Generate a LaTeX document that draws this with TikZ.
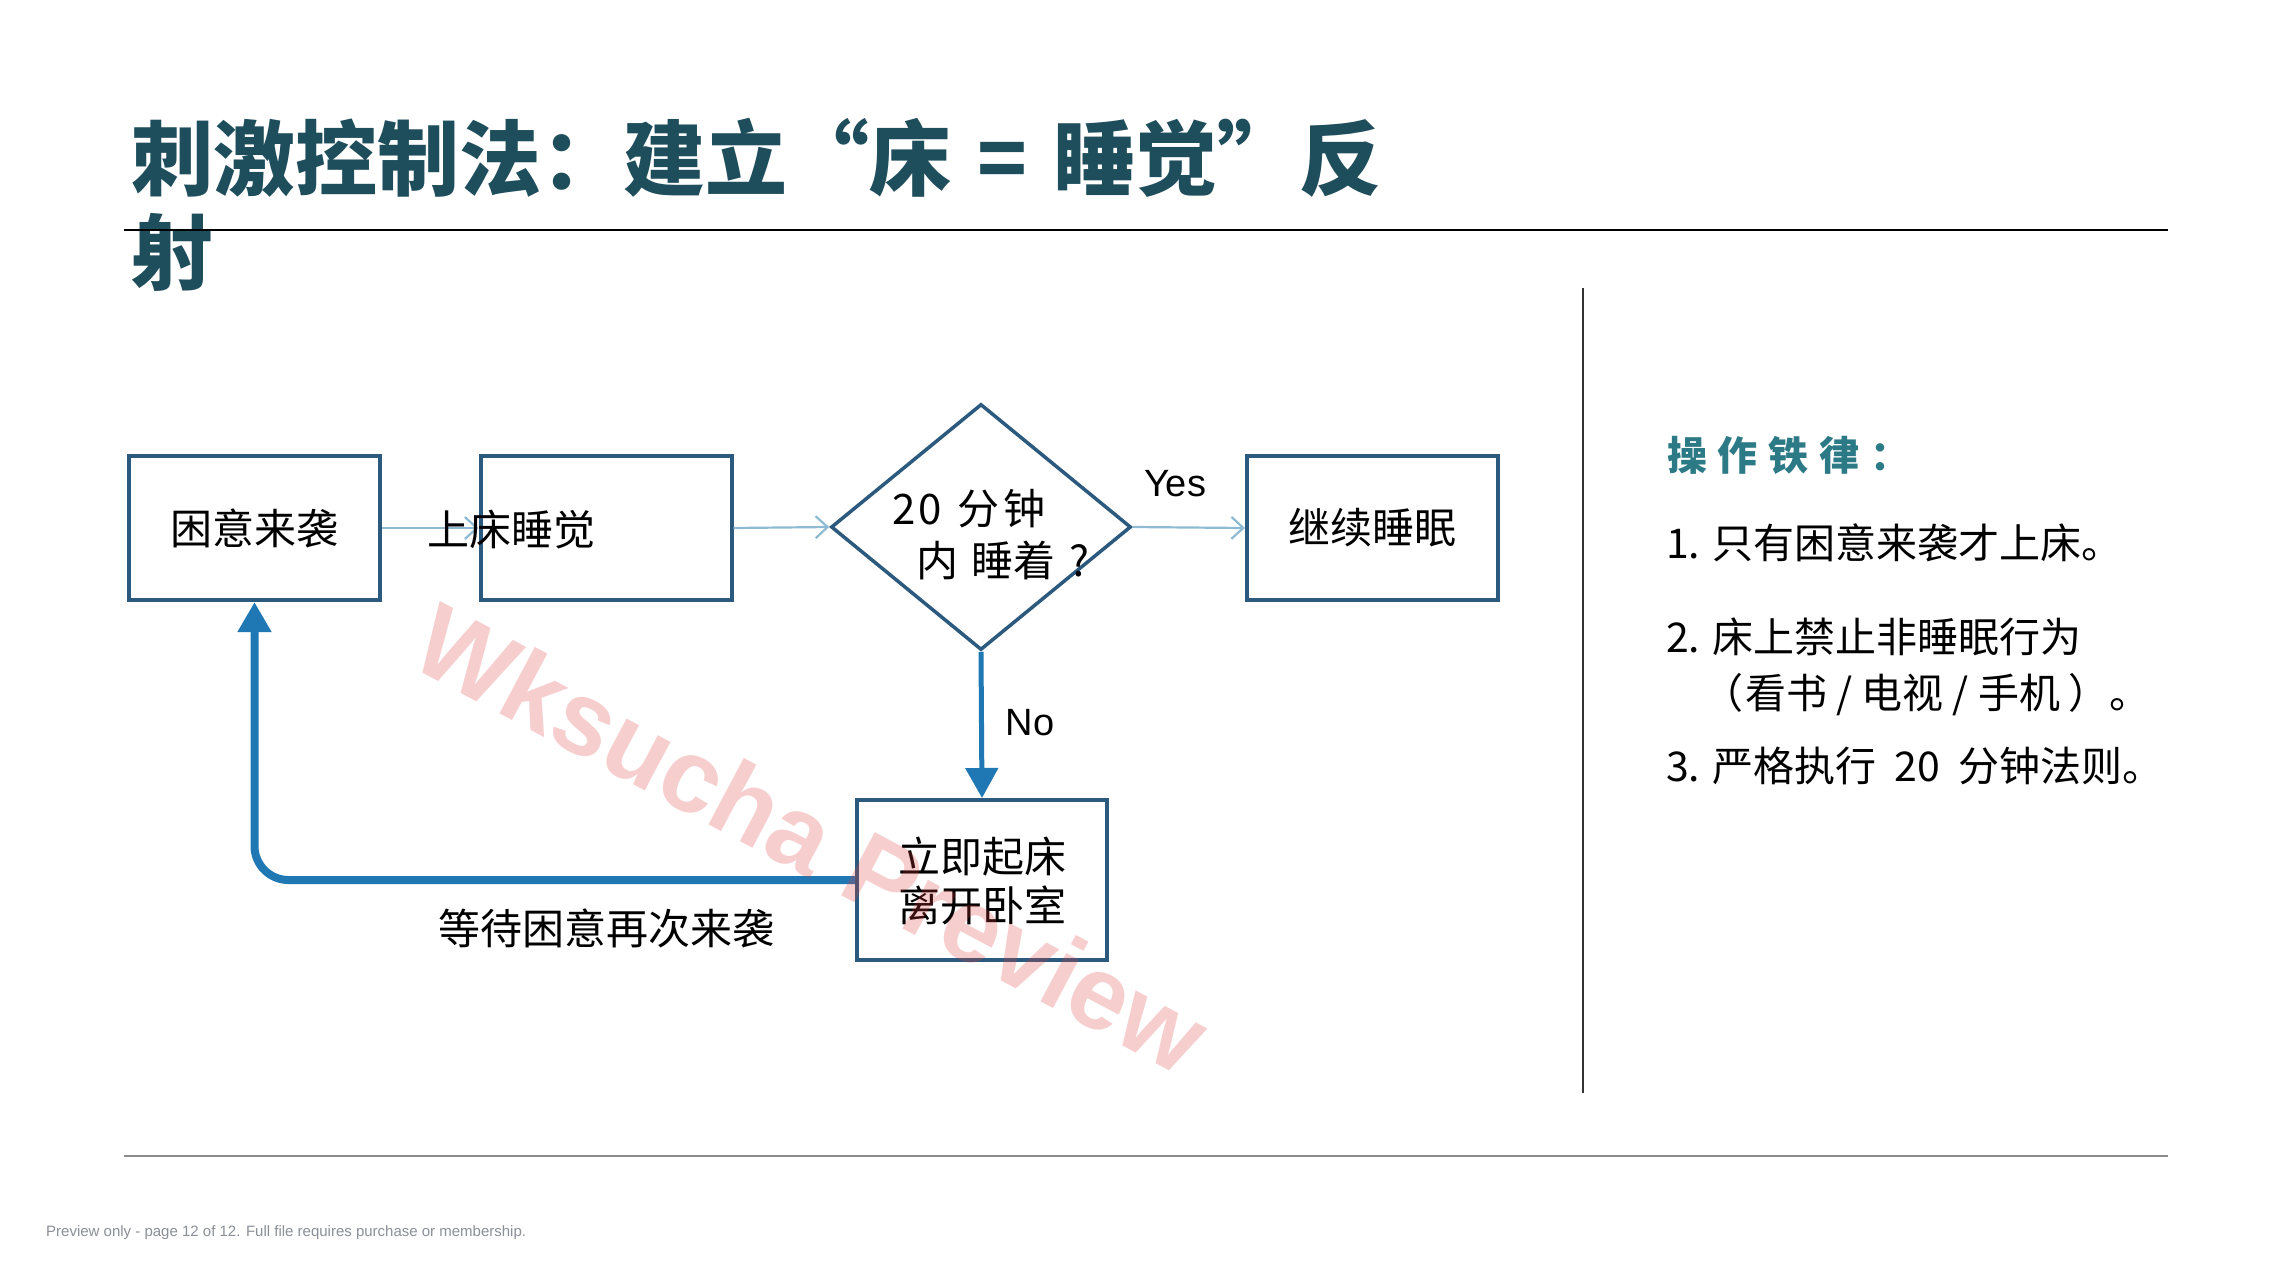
\documentclass[tikz,border=0pt]{standalone}
\usepackage{fontspec}
\usetikzlibrary{arrows.meta,shapes.geometric}
\setmainfont{Liberation Sans}
\newfontfamily\cjk{Noto Sans CJK SC}
\newfontfamily\cjkspaced{Noto Sans CJK SC}[LetterSpace=27]
\definecolor{titlec}{HTML}{1E4D5C}
\definecolor{headc}{HTML}{2B7A86}
\definecolor{boxc}{HTML}{2B5A7E}
\definecolor{thickc}{HTML}{1F78B4}
\definecolor{thinc}{HTML}{8EBBD3}
\definecolor{footc}{HTML}{8A8F98}
\definecolor{wmc}{HTML}{E03C3C}
\begin{document}
\begin{tikzpicture}[x=1pt,y=-1pt,
  box/.style={draw=boxc, line width=4pt, minimum width=251pt, minimum height=144pt, inner sep=0pt},
  flowtext/.style={font=\cjk\fontsize{42}{49}\selectfont, inner sep=0pt, align=center},
  listtext/.style={font=\cjk\fontsize{41}{48}\selectfont, inner sep=0pt, anchor=west},
  thinarrow/.style={draw=thinc, line width=2.2pt, -{Straight Barb[length=12pt,width=22pt]}},
  thickarrow/.style={draw=thickc, -{Triangle[length=30pt,width=32pt]}},
  lbl/.style={font=\fontsize{38}{44}\selectfont, inner sep=0pt}
]
\useasboundingbox[fill=white] (0,0) rectangle (2294,1280);

% title
\node[font=\cjk\bfseries\fontsize{82}{96}\selectfont, text=titlec, anchor=west, inner sep=0pt] (title1) at (131,158) {刺激控制法：建立“床\hspace{26pt}=\hspace{26pt}睡觉”反};
\node[font=\cjk\bfseries\fontsize{82}{96}\selectfont, text=titlec, anchor=west, inner sep=0pt] (title2) at (131,252) {射};

% rules
\draw[line width=2pt] (124,230) -- (2168,230);
\draw[line width=1.5pt, color=black!45] (124,1156) -- (2168,1156);
\draw[line width=2pt, color=black!80] (1583,288) -- (1583,1093);

% flowchart nodes
\node[box] (b1) at (254.5,528) {};
\node[box] (b2) at (606,528) {};
\node[draw=boxc, line width=3.5pt, shape=diamond, minimum width=300pt, minimum height=246pt, inner sep=0pt] (dia) at (981,527) {};
\node[box] (b3) at (1372.5,528) {};
\node[box, minimum width=250pt, minimum height=160pt] (b4) at (982,880) {};

% connectors
\draw[thinarrow] (b1.east) -- (b2.west);
\draw[thinarrow] (b2.east) -- (dia.west);
\draw[thinarrow] (dia.east) -- (b3.west);
\draw[thickarrow, line width=5pt] (dia.south) -- (b4.north);
\draw[thickarrow, line width=8pt, rounded corners=34pt] (b4.west) -| (b1.south);

% texts
\node[flowtext] (t1) at (b1.center) {困意来袭};
\node[flowtext] (t2) at (511,530) {上床睡觉};
\node[flowtext] (t3) at (b3.center) {继续睡眠};
\node[flowtext, anchor=west] (d1) at (892,509) {2\hspace{3pt}0\hspace{6pt} 分\hspace{4pt}钟};
\node[flowtext, anchor=west] (d2) at (916,560) {内\hspace{4pt} 睡着\hspace{14pt}?};
\node[flowtext] (t4) at (982,881) {立即起床\\离开卧室};
\node[flowtext] (t5) at (606,928) {等待困意再次来袭};
\node[lbl] (yes) at (1175,484) {Yes};
\node[lbl] (no) at (1030,723) {No};

% right panel
\node[font=\cjkspaced\bfseries\fontsize{40}{48}\selectfont, text=headc, anchor=west, inner sep=0pt] (head) at (1667,455) {操作铁律：};
\node[listtext] (l1) at (1666,543) {1. 只有困意来袭才上床。};
\node[listtext] (l2) at (1666,637) {2. 床上禁止非睡眠行为};
\node[listtext] (l2b) at (1702,695) {（\hspace{2pt}看书 / 电视 / 手机\hspace{8pt}）。};
\node[listtext] (l3) at (1666,766) {3. 严格执行\hspace{18pt}20\hspace{18pt}分钟法则。};

% footer
\node[font=\fontsize{15}{18}\selectfont, text=footc, anchor=west, inner sep=0pt] (foot) at (46,1233) {Preview only - page 12 of 12. Full file requires purchase or membership.};

% watermark
\node[font=\bfseries\fontsize{104}{120}\selectfont, text=wmc, opacity=0.25, rotate=-28, inner sep=0pt] (wm) at (812,838) {Wksucha Preview};
\end{tikzpicture}
\end{document}
